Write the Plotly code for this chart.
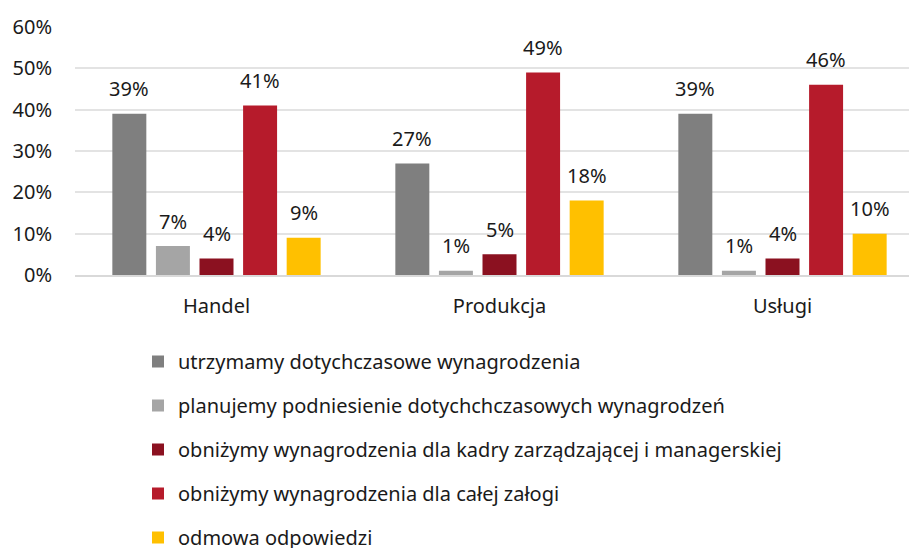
import plotly.graph_objects as go

categories = ["Handel", "Produkcja", "Usługi"]
series_names = [
    "utrzymamy dotychczasowe wynagrodzenia",
    "planujemy podniesienie dotychchczasowych wynagrodzeń",
    "obniżymy wynagrodzenia dla kadry zarządzającej i managerskiej",
    "obniżymy wynagrodzenia dla całej załogi",
    "odmowa odpowiedzi",
]
utrzymamy = [0.39, 0.27, 0.39]
planujemy = [0.07, 0.01, 0.01]
obnizymy_kadra = [0.04, 0.05, 0.04]
obnizymy_zaloga = [0.41, 0.49, 0.46]
odmowa = [0.09, 0.18, 0.10]
y_ticks = [0, 0.1, 0.2, 0.3, 0.4, 0.5, 0.6]

values = [utrzymamy, planujemy, obnizymy_kadra, obnizymy_zaloga, odmowa]
colors = ["#7f7f7f", "#a5a5a5", "#8b1120", "#b61b2b", "#ffc000"]

FONT = "Noto Sans"
FS = 20
TXT = "#1a1a1a"
BARGAP = 0.23
n_series = len(values)
slot = (1 - BARGAP) / n_series

fig = go.Figure()
for j, (name, vals, col) in enumerate(zip(series_names, values, colors)):
    xs = list(range(len(categories)))
    fig.add_trace(go.Bar(
        x=xs, y=vals, name=name,
        marker=dict(color=col, line=dict(width=0)),
        legendgroup=str(j),
    ))
    # data labels above each bar (positioned via the data axes)
    for k, v in enumerate(vals):
        fig.add_annotation(
            x=xs[k] - (1 - BARGAP) / 2 + (j + 0.5) * slot, y=v,
            xref="x", yref="y", text=f"{round(v * 100)}%", showarrow=False,
            yanchor="middle", xanchor="center", yshift=25,
            font=dict(family=FONT, size=FS, color=TXT),
        )

fig.update_layout(
    width=917, height=548,
    margin=dict(l=67, r=0, t=19, b=281, autoexpand=False),
    paper_bgcolor="white", plot_bgcolor="white",
    barmode="group", bargap=BARGAP, bargroupgap=0.22,
    font=dict(family=FONT, size=FS, color=TXT),
    showlegend=True,
    legend=dict(
        orientation="v", xref="container", yref="container",
        x=130/917, y=1 - 334/548, xanchor="left", yanchor="top",
        font=dict(family=FONT, size=FS, color=TXT),
        tracegroupgap=15, bgcolor="rgba(0,0,0,0)",
    ),
    xaxis=dict(
        tickmode="array", tickvals=list(range(len(categories))), ticktext=categories,
        range=[-0.5, -0.5 + 850/283], showgrid=False, zeroline=False,
        showline=True, linecolor="#d9d9d9", linewidth=1.5, ticks="",
        tickangle=0, ticklabelstandoff=12,
        tickfont=dict(family=FONT, size=FS, color=TXT),
    ),
    yaxis=dict(
        range=[0, 0.6], tickvals=y_ticks, tickformat=".0%",
        showgrid=True, gridcolor="#e3e3e3", gridwidth=1.5,
        zeroline=False, showline=False, ticks="",
        ticklabelstandoff=22,
        tickfont=dict(family=FONT, size=FS, color=TXT),
    ),
)

fig.write_html("out.html")
